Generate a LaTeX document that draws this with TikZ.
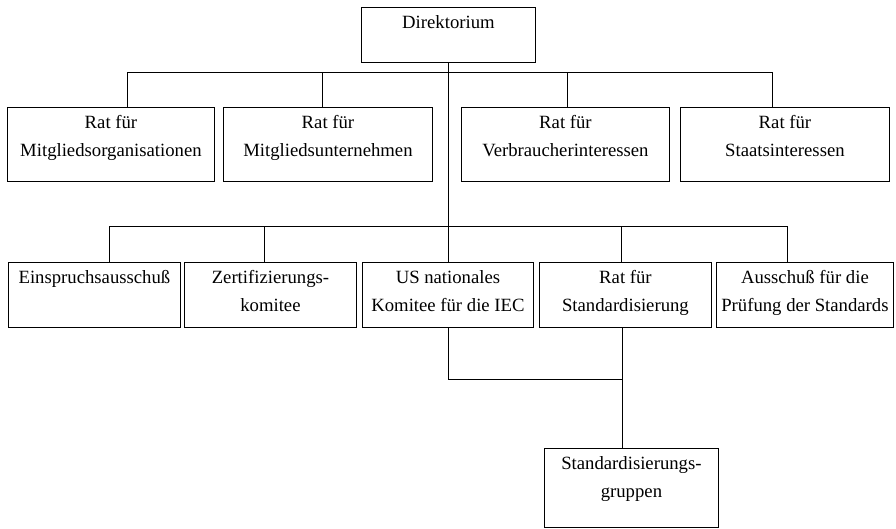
\documentclass[tikz,border=0pt]{standalone}
\usepackage{fontspec}
\setmainfont{Liberation Serif}
\usetikzlibrary{calc}
\newcommand{\kasten}[3]{\parbox[c][#2pt][t]{#1pt}{\centering\rule{0pt}{21pt}#3}}

\begin{document}
\begin{tikzpicture}[x=1pt, y=-1pt, line width=0.9pt, every node/.style={draw, inner sep=0pt, anchor=north west, font=\fontsize{18.7}{28}\selectfont}]
\useasboundingbox (0,0) rectangle (896,528);
\node (dir) at (361,7) {\kasten{174}{55}{Direktorium}};
% Raete
\node (rm) at (7,107) {\kasten{207}{74}{Rat für\\Mitgliedsorganisationen}};
\node (ru) at (223,107) {\kasten{209}{74}{Rat für\\Mitgliedsunternehmen}};
\node (rv) at (461,107) {\kasten{208}{74}{Rat für\\Verbraucherinteressen}};
\node (rs) at (680,107) {\kasten{209}{74}{Rat für\\Staatsinteressen}};
% Ausschuesse
\node (ein) at (8,262) {\kasten{172}{65}{Einspruchsausschuß}};
\node (zer) at (184,262) {\kasten{172}{65}{Zertifizierungs-\\komitee}};
\node (iec) at (362,262) {\kasten{171}{65}{US nationales\\Komitee für die IEC}};
\node (std) at (539,262) {\kasten{172}{65}{Rat für\\Standardisierung}};
\node (aus) at (716,262) {\kasten{177}{65}{Ausschuß für die\\Prüfung der Standards}};
\node (grp) at (544,448) {\kasten{174}{79}{Standardisierungs-\\gruppen}};
% Verbindungen
\coordinate (o1) at (127,72); \coordinate (o2) at (322,72);
\coordinate (o3) at (567,72); \coordinate (o4) at (772,72);
\coordinate (u1) at (109,226); \coordinate (u2) at (264,226);
\coordinate (u3) at (621,226); \coordinate (u4) at (787,226);
\coordinate (m) at (622,379);
\draw (dir.south) -- (dir.south |- iec.north);
\draw (o1 |- rm.north) -- (o1) -- (o4) -- (o4 |- rs.north);
\draw (o2) -- (o2 |- ru.north); \draw (o3) -- (o3 |- rv.north);
\draw (u1 |- ein.north) -- (u1) -- (u4) -- (u4 |- aus.north);
\draw (u2) -- (u2 |- zer.north); \draw (u3) -- (u3 |- std.north);
\draw (iec.south) -- (iec.south |- m) -- (m);
\draw (m |- std.south) -- (m |- grp.north);
\end{tikzpicture}
\end{document}
